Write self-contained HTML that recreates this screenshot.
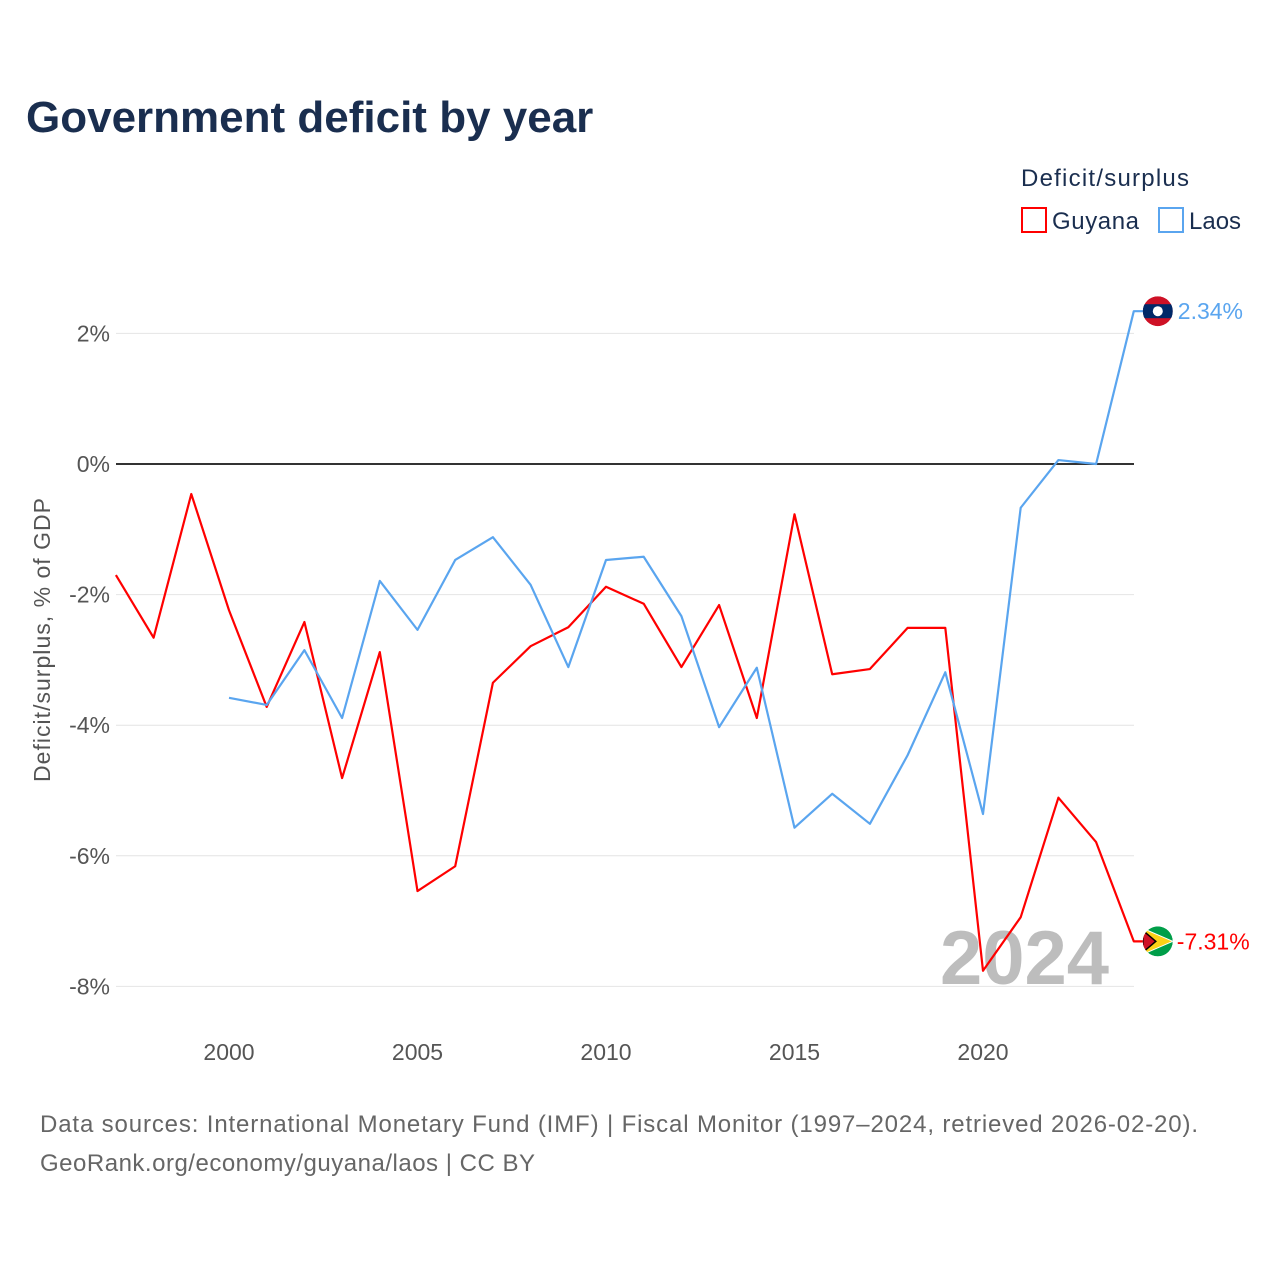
<!DOCTYPE html>
<html><head><meta charset="utf-8"><style>
body{margin:0;background:#fff;font-family:"Liberation Sans",sans-serif;}
</style></head><body>
<svg width="1280" height="1280" xmlns="http://www.w3.org/2000/svg" font-family="Liberation Sans, sans-serif">
<defs>
<clipPath id="c1"><circle id="c1c" cx="0" cy="0" r="15"/></clipPath>
<clipPath id="c2"><circle id="c2c" cx="0" cy="0" r="15"/></clipPath>
</defs>
<text x="26" y="132" font-size="44" font-weight="bold" fill="#1a2e4f">Government deficit by year</text>
<text x="1021" y="186" font-size="24" fill="#1a2e4f" textLength="168">Deficit/surplus</text>
<g><rect x="1022" y="208" width="24" height="24" fill="none" stroke="#ff0000" stroke-width="2"/><text x="1052" y="229" font-size="24" fill="#1a2e4f" textLength="87">Guyana</text></g>
<g><rect x="1159" y="208" width="24" height="24" fill="none" stroke="#5aa5ef" stroke-width="2"/><text x="1189" y="229" font-size="24" fill="#1a2e4f">Laos</text></g>
<g id="grid"></g>
<text x="940" y="984" font-size="76" font-weight="bold" fill="#bdbdbd">2024</text>
<g id="series"></g>
<text transform="translate(50,640) rotate(-90)" text-anchor="middle" font-size="23" fill="#555" textLength="284">Deficit/surplus, % of GDP</text>
<text x="40" y="1132" font-size="24" fill="#666" textLength="1158">Data sources: International Monetary Fund (IMF) | Fiscal Monitor (1997–2024, retrieved 2026-02-20).</text>
<text x="40" y="1171" font-size="24" fill="#666" textLength="495">GeoRank.org/economy/guyana/laos | CC BY</text>
</svg>
<script>
const years=[1997,1998,1999,2000,2001,2002,2003,2004,2005,2006,2007,2008,2009,2010,2011,2012,2013,2014,2015,2016,2017,2018,2019,2020,2021,2022,2023,2024];
const guyana=[-1.70,-2.66,-0.46,-2.24,-3.72,-2.42,-4.81,-2.88,-6.54,-6.16,-3.35,-2.79,-2.50,-1.88,-2.14,-3.11,-2.16,-3.89,-0.77,-3.22,-3.14,-2.51,-2.51,-7.76,-6.94,-5.11,-5.79,-7.31];
const laos=[null,null,null,-3.58,-3.69,-2.85,-3.89,-1.79,-2.54,-1.47,-1.12,-1.85,-3.11,-1.47,-1.42,-2.33,-4.03,-3.12,-5.57,-5.05,-5.51,-4.46,-3.19,-5.36,-0.67,0.06,0.0,2.34];
const yTicks=[2,0,-2,-4,-6,-8];
const xTicks=[2000,2005,2010,2015,2020];
const NS="http://www.w3.org/2000/svg";
const X=y=>229+(y-2000)*37.7;
const Y=v=>464-v*65.3;
function mk(t,a,p){const e=document.createElementNS(NS,t);for(const k in a)e.setAttribute(k,a[k]);p.appendChild(e);return e;}
const g=document.getElementById('grid'),s=document.getElementById('series');
yTicks.forEach(v=>{
 const l=mk('line',{x1:116,x2:1134,y1:Y(v),y2:Y(v),stroke:v===0?'#333':'#e4e4e4','stroke-width':v===0?2:1},g);
 
 
 const t=mk('text',{x:110,y:Y(v)+8,'text-anchor':'end','font-size':23,fill:'#555'},g);t.textContent=v+'%';
 
 
});
xTicks.forEach(v=>{
 const t=mk('text',{x:X(v),y:1060,'text-anchor':'middle','font-size':23,fill:'#555'},g);t.textContent=v;
 
 
});
function line(vals,col,name){
 let d='';let last=null;
 vals.forEach((v,i)=>{if(v===null)return;d+=(d?'L':'M')+X(years[i])+','+Y(v);last=v;});
 d+='L'+(X(years[years.length-1])+24)+','+Y(last);
 const p=mk('path',{d:d,fill:'none',stroke:col,'stroke-width':2.2,'stroke-linejoin':'round'},s);
 
 
 return last;
}
const gl=line(guyana,'#ff0000','guyana-line');
const ll=line(laos,'#5aa5ef','laos-line');
const mx=X(2024)+24;
document.getElementById('c1c').setAttribute('cx',mx);document.getElementById('c1c').setAttribute('cy',Y(ll));
document.getElementById('c2c').setAttribute('cx',mx);document.getElementById('c2c').setAttribute('cy',Y(gl));
const lf=mk('g',{'clip-path':'url(#c1)'},s);


mk('circle',{cx:mx,cy:Y(ll),r:15,fill:'#ce1126'},lf);
mk('rect',{x:mx-15,y:Y(ll)-7,width:30,height:14,fill:'#002868'},lf);
mk('circle',{cx:mx,cy:Y(ll),r:5,fill:'#fff'},lf);
const lt=mk('text',{x:mx+20,y:Y(ll)+8,'font-size':23,fill:'#5aa5ef'},s);lt.textContent=ll.toFixed(2)+'%';


const gf=mk('g',{'clip-path':'url(#c2)'},s);


mk('circle',{cx:mx,cy:Y(gl),r:15,fill:'#009e49'},gf);
mk('path',{d:`M${mx-15},${Y(gl)-13}L${mx+15},${Y(gl)}L${mx-15},${Y(gl)+13}Z`,fill:'#fcd116',stroke:'#fff','stroke-width':1},gf);
mk('path',{d:`M${mx-15},${Y(gl)-11}L${mx-2},${Y(gl)}L${mx-15},${Y(gl)+11}Z`,fill:'#ce1126',stroke:'#000','stroke-width':1.5},gf);
const gt=mk('text',{x:mx+19,y:Y(gl)+8,'font-size':23,fill:'#ff0000'},s);gt.textContent=gl.toFixed(2)+'%';


</script>
</body></html>
